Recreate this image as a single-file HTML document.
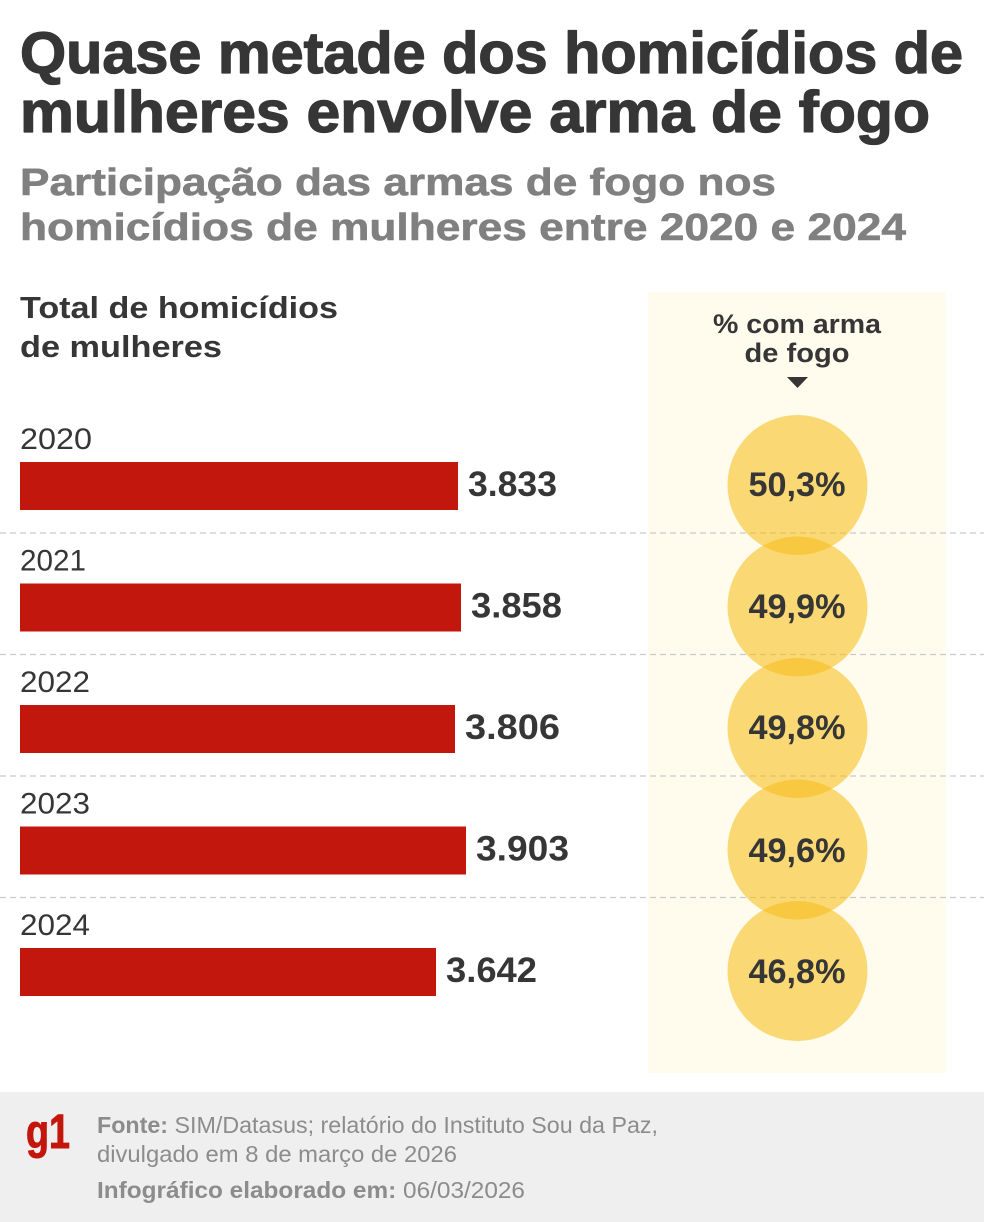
<!DOCTYPE html>
<html>
<head>
<meta charset="utf-8">
<style>
html,body{margin:0;padding:0;background:#fff;}
svg{display:block;}
text{font-family:"Liberation Sans",sans-serif;}
</style>
</head>
<body>
<svg width="984" height="1222" viewBox="0 0 984 1222" xmlns="http://www.w3.org/2000/svg">
  <rect x="0" y="0" width="984" height="1222" fill="#ffffff"/>
  <!-- title -->
  <g fill="#363636" stroke="#363636" stroke-width="1.3" stroke-linejoin="round">
    <text x="20" y="73" font-size="58" font-weight="bold" textLength="943" lengthAdjust="spacingAndGlyphs">Quase metade dos homicídios de</text>
    <text x="20" y="132" font-size="58" font-weight="bold" textLength="910" lengthAdjust="spacingAndGlyphs">mulheres envolve arma de fogo</text>
  </g>
  <!-- subtitle -->
  <g fill="#808080" stroke="#808080" stroke-width="0.6" stroke-linejoin="round">
    <text x="20" y="195" font-size="38" font-weight="bold" textLength="756" lengthAdjust="spacingAndGlyphs">Participação das armas de fogo nos</text>
    <text x="20" y="240" font-size="38" font-weight="bold" textLength="886" lengthAdjust="spacingAndGlyphs">homicídios de mulheres entre 2020 e 2024</text>
  </g>

  <!-- panel -->
  <rect x="648" y="292" width="298" height="781" fill="#fffcee"/>

  <text x="20" y="318" font-size="31" font-weight="bold" fill="#363636" textLength="318" lengthAdjust="spacingAndGlyphs">Total de homicídios</text>
  <text x="20" y="357" font-size="31" font-weight="bold" fill="#363636" textLength="202" lengthAdjust="spacingAndGlyphs">de mulheres</text>

  <text x="797" y="333" font-size="27" font-weight="bold" fill="#363636" text-anchor="middle" textLength="168" lengthAdjust="spacingAndGlyphs">% com arma</text>
  <text x="797" y="362" font-size="27" font-weight="bold" fill="#363636" text-anchor="middle" textLength="105" lengthAdjust="spacingAndGlyphs">de fogo</text>
  <polygon points="787,377 808,377 797.5,388" fill="#363636"/>

  <!-- dashed separators -->
  <g stroke="#c9c9c9" stroke-width="1.2" stroke-dasharray="6,4">
    <line x1="0" y1="533" x2="984" y2="533"/>
    <line x1="0" y1="654.5" x2="984" y2="654.5"/>
    <line x1="0" y1="776" x2="984" y2="776"/>
    <line x1="0" y1="897.5" x2="984" y2="897.5"/>
  </g>

  <!-- circles -->
  <g fill="#f7bd1c" fill-opacity="0.58">
    <circle cx="797.5" cy="485" r="70"/>
    <circle cx="797.5" cy="606.5" r="70"/>
    <circle cx="797.5" cy="728" r="70"/>
    <circle cx="797.5" cy="849.5" r="70"/>
    <circle cx="797.5" cy="971" r="70"/>
  </g>
  <g font-size="34" font-weight="bold" fill="#363636" text-anchor="middle">
    <text x="797" y="496" textLength="97" lengthAdjust="spacingAndGlyphs">50,3%</text>
    <text x="797" y="618" textLength="97" lengthAdjust="spacingAndGlyphs">49,9%</text>
    <text x="797" y="739" textLength="97" lengthAdjust="spacingAndGlyphs">49,8%</text>
    <text x="797" y="862" textLength="97" lengthAdjust="spacingAndGlyphs">49,6%</text>
    <text x="797" y="983" textLength="97" lengthAdjust="spacingAndGlyphs">46,8%</text>
  </g>

  <!-- years -->
  <g font-size="30" fill="#363636">
    <text x="20" y="449" textLength="72" lengthAdjust="spacingAndGlyphs">2020</text>
    <text x="20" y="570.5" textLength="66" lengthAdjust="spacingAndGlyphs">2021</text>
    <text x="20" y="692" textLength="70" lengthAdjust="spacingAndGlyphs">2022</text>
    <text x="20" y="813.5" textLength="70" lengthAdjust="spacingAndGlyphs">2023</text>
    <text x="20" y="935" textLength="70" lengthAdjust="spacingAndGlyphs">2024</text>
  </g>

  <!-- bars -->
  <g fill="#c1170c">
    <rect x="20" y="462" width="438" height="48"/>
    <rect x="20" y="583.5" width="441" height="48"/>
    <rect x="20" y="705" width="435" height="48"/>
    <rect x="20" y="826.5" width="446" height="48"/>
    <rect x="20" y="948" width="416" height="48"/>
  </g>
  <g font-size="35" font-weight="bold" fill="#363636">
    <text x="468" y="496" textLength="89" lengthAdjust="spacingAndGlyphs">3.833</text>
    <text x="471" y="617.5" textLength="91" lengthAdjust="spacingAndGlyphs">3.858</text>
    <text x="465" y="739" textLength="95" lengthAdjust="spacingAndGlyphs">3.806</text>
    <text x="476" y="860.5" textLength="93" lengthAdjust="spacingAndGlyphs">3.903</text>
    <text x="446" y="982" textLength="91" lengthAdjust="spacingAndGlyphs">3.642</text>
  </g>

  <!-- footer -->
  <rect x="0" y="1092" width="984" height="130" fill="#efefef"/>
  <text x="26" y="1148" font-size="48" font-weight="bold" fill="#c4170c" stroke="#c4170c" stroke-width="1" textLength="44" lengthAdjust="spacingAndGlyphs">g1</text>
  <text x="97" y="1133" font-size="23" fill="#8c8c8c" textLength="561" lengthAdjust="spacingAndGlyphs"><tspan font-weight="bold">Fonte:</tspan> SIM/Datasus; relatório do Instituto Sou da Paz,</text>
  <text x="97" y="1162" font-size="23" fill="#8c8c8c" textLength="360" lengthAdjust="spacingAndGlyphs">divulgado em 8 de março de 2026</text>
  <text x="97" y="1198" font-size="23" fill="#8c8c8c" textLength="428" lengthAdjust="spacingAndGlyphs"><tspan font-weight="bold">Infográfico elaborado em:</tspan> 06/03/2026</text>
</svg>
</body>
</html>
